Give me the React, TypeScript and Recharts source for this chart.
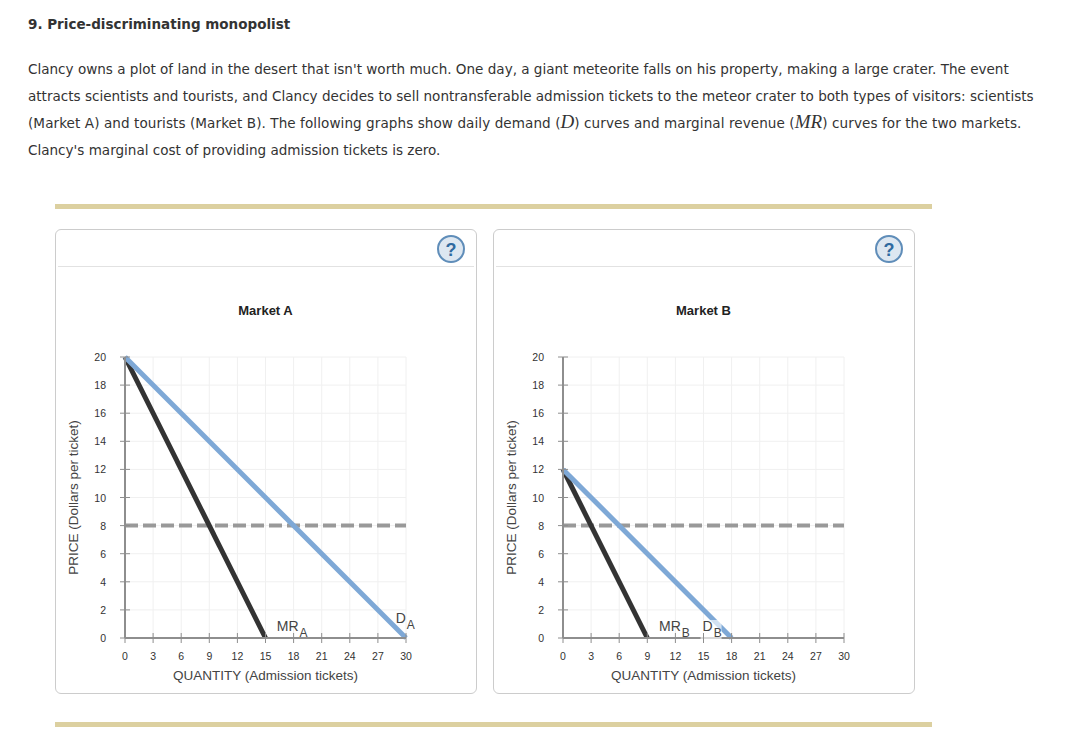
import { CartesianGrid, Label, Line, LineChart, ReferenceDot, XAxis, YAxis } from "recharts";

const quantityTicks = [0, 3, 6, 9, 12, 15, 18, 21, 24, 27, 30];
const priceTicks = [0, 2, 4, 6, 8, 10, 12, 14, 16, 18, 20];

const costQuantity = [0, 30];
const costPrice = [8, 8];

const demandAQuantity = [0, 30];
const demandAPrice = [20, 0];
const revenueAQuantity = [0, 15];
const revenueAPrice = [20, 0];

const demandBQuantity = [0, 18];
const demandBPrice = [12, 0];
const revenueBQuantity = [0, 9];
const revenueBPrice = [12, 0];

const bodyLines = [
  "Clancy owns a plot of land in the desert that isn't worth much. One day, a giant meteorite falls on his property, making a large crater. The event",
  "attracts scientists and tourists, and Clancy decides to sell nontransferable admission tickets to the meteor crater to both types of visitors: scientists",
];

const rows = (q: number[], p: number[]) => q.map((value, i) => ({ q: value, p: p[i] }));

const BLUE = "#7ea8d6";
const DARK = "#333333";
const AXIS = "#8e8e8e";

function XTick({ x, y, payload }: any) {
  return (
    <g>
      <line x1={x} x2={x} y1={y - 5} y2={y + 5} stroke={AXIS} strokeWidth={1} />
      <text x={x} y={y + 22} textAnchor="middle" fontSize={10.5} fill="#333">
        {payload.value}
      </text>
    </g>
  );
}

function YTick({ x, y, payload }: any) {
  return (
    <g>
      <line x1={x - 5} x2={x + 5} y1={y} y2={y} stroke={AXIS} strokeWidth={1} />
      <text x={x - 19} y={y + 4} textAnchor="end" fontSize={10.5} fill="#333">
        {payload.value}
      </text>
    </g>
  );
}

function CurveLabel({ cx, cy, main, sub, halo }: any) {
  return (
    <g>
      {halo && <rect x={cx - 2} y={cy - 11} width={21} height={20} fill="#fff" opacity={0.65} />}
      <text x={cx} y={cy} fontSize={14} fill="#444">
        {main}
        <tspan dx={1} dy={6} fontSize={12}>
          {sub}
        </tspan>
      </text>
    </g>
  );
}

interface MarketProps {
  left: number;
  title: string;
  demand: { q: number; p: number }[];
  revenue: { q: number; p: number }[];
  labels: { q: number; p: number; main: string; sub: string; halo?: boolean }[];
}

function MarketChart({ left, title, demand, revenue, labels }: MarketProps) {
  return (
    <div
      style={{
        position: "absolute",
        left,
        top: 229,
        width: 422,
        height: 465,
        boxSizing: "border-box",
        border: "1px solid #cccccc",
        borderRadius: 6,
        background: "#fff",
      }}
    >
      <div style={{ position: "absolute", left: 2, right: 2, top: 36, height: 1, background: "#e2e2e2" }} />
      <svg width={30} height={30} style={{ position: "absolute", left: 380, top: 4 }}>
        <circle cx={15} cy={15} r={13} fill="#dde7f1" stroke="#5f8db9" strokeWidth={2} />
        <text x={15} y={21.5} textAnchor="middle" fontSize={18} fontWeight={700} fontFamily="'Liberation Sans'" fill="#2f6aa0">
          ?
        </text>
      </svg>
      <div
        style={{
          position: "absolute",
          left: 0,
          width: 419,
          top: 73,
          textAlign: "center",
          fontFamily: "'Liberation Sans'",
          fontWeight: 700,
          fontSize: 13,
          color: "#222",
        }}
      >
        {title}
      </div>
      <div style={{ position: "absolute", left: -1, top: 70 }}>
        <LineChart
          width={422}
          height={390}
          margin={{ top: 57, right: 71, bottom: 0, left: 10 }}
          style={{ fontFamily: "'Liberation Sans'" }}
        >
          <CartesianGrid stroke="#f0f0f0" strokeWidth={1} />
          <XAxis
            dataKey="q"
            type="number"
            domain={[0, 30]}
            ticks={quantityTicks}
            interval={0}
            height={52}
            tickSize={0}
            tickMargin={0}
            tickLine={false}
            tick={<XTick />}
            axisLine={{ stroke: AXIS, strokeWidth: 2 }}
          >
            <Label value="QUANTITY (Admission tickets)" position="insideBottom" offset={10} fontSize={13.5} fill="#444" />
          </XAxis>
          <YAxis
            dataKey="p"
            type="number"
            domain={[0, 20]}
            ticks={priceTicks}
            interval={0}
            width={60}
            tickSize={0}
            tickMargin={0}
            tickLine={false}
            tick={<YTick />}
            axisLine={{ stroke: AXIS, strokeWidth: 2 }}
          >
            <Label
              value="PRICE (Dollars per ticket)"
              angle={-90}
              position="insideLeft"
              offset={8}
              fontSize={13.5}
              fill="#444"
              style={{ textAnchor: "middle" }}
            />
          </YAxis>
          <Line
            data={rows(costQuantity, costPrice)}
            dataKey="p"
            stroke="#999999"
            strokeWidth={4}
            strokeDasharray="13 5"
            dot={false}
            isAnimationActive={false}
          />
          <Line data={revenue} dataKey="p" stroke={DARK} strokeWidth={5} dot={false} isAnimationActive={false} />
          <Line data={demand} dataKey="p" stroke={BLUE} strokeWidth={5} dot={false} isAnimationActive={false} />
          {labels.map((item) => (
            <ReferenceDot
              key={item.main}
              x={item.q}
              y={item.p}
              r={0}
              shape={(props: any) => (
                <CurveLabel cx={props.cx} cy={props.cy} main={item.main} sub={item.sub} halo={item.halo} />
              )}
            />
          ))}
        </LineChart>
      </div>
    </div>
  );
}

const textLine = (top: number): React.CSSProperties => ({
  position: "absolute",
  left: 28,
  top,
  whiteSpace: "nowrap",
  fontFamily: "'DejaVu Sans'",
  fontSize: 13.56,
  lineHeight: "20px",
  color: "#333",
});

const serifItalic: React.CSSProperties = { fontFamily: "'Liberation Serif'", fontStyle: "italic", fontSize: 19, lineHeight: "10px" };

const rule = (top: number): React.CSSProperties => ({
  position: "absolute",
  left: 55,
  top,
  width: 877,
  height: 5,
  background: "#dcd0a0",
});

export default function App() {
  return (
    <div style={{ position: "absolute", left: 0, top: 0, width: 1082, height: 754, background: "#fff", overflow: "hidden" }}>
      <div style={{ ...textLine(14), fontWeight: 700, fontSize: 13.5 }}>9. Price-discriminating monopolist</div>
      <div style={textLine(59)}>{bodyLines[0]}</div>
      <div style={textLine(86)}>{bodyLines[1]}</div>
      <div style={{ ...textLine(113), letterSpacing: 0.08 }}>
        (Market A) and tourists (Market B). The following graphs show daily demand (<span style={serifItalic}>D</span>)
        curves and marginal revenue (<span style={serifItalic}>MR</span>) curves for the two markets.
      </div>
      <div style={textLine(140)}>Clancy's marginal cost of providing admission tickets is zero.</div>
      <div style={rule(204)} />
      <MarketChart
        left={55}
        title="Market A"
        demand={rows(demandAQuantity, demandAPrice)}
        revenue={rows(revenueAQuantity, revenueAPrice)}
        labels={[
          { q: 16.2, p: 0.5, main: "MR", sub: "A" },
          { q: 28.9, p: 1.07, main: "D", sub: "A" },
        ]}
      />
      <MarketChart
        left={493}
        title="Market B"
        demand={rows(demandBQuantity, demandBPrice)}
        revenue={rows(revenueBQuantity, revenueBPrice)}
        labels={[
          { q: 10.25, p: 0.5, main: "MR", sub: "B" },
          { q: 14.9, p: 0.5, main: "D", sub: "B", halo: true },
        ]}
      />
      <div style={rule(722)} />
    </div>
  );
}
